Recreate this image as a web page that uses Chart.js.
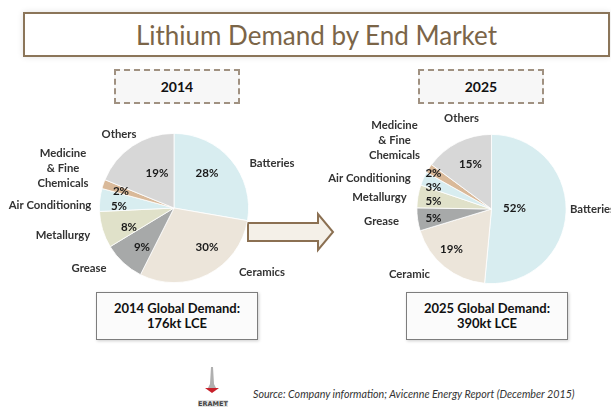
<!DOCTYPE html>
<html>
<head>
<meta charset="utf-8">
<script src="https://cdn.jsdelivr.net/npm/chart.js@4.4.1/dist/chart.umd.min.js"></script>
<style>
  html, body { margin:0; padding:0; background:#fff; }
  body { width:611px; height:412px; position:relative; overflow:hidden; font-family:Lato, "Open Sans", sans-serif; }
  canvas { position:absolute; left:0; top:0; }
  .title { position:absolute; left:23px; top:12px; width:583px; height:41px; border:2px solid #8b7559;
           box-shadow:0 0 6px rgba(0,0,0,0.12); color:#7b6548; font-size:26px; text-align:center; line-height:43px; background:#fff; }
  .year { position:absolute; top:69px; width:122px; height:31px; border:2px dashed #a09181; background:#f7f7f7;
          font-weight:bold; font-size:14px; color:#111; text-align:center; line-height:31px; }
  .total { position:absolute; top:292px; width:160px; height:46px; border:1.5px solid #7d7d7d; background:#fbfbfb;
           box-shadow:1px 1px 3px rgba(0,0,0,0.2); font-weight:bold; font-size:13px; color:#111; text-align:center; line-height:15px; }
  .total div { padding-top:8px; }
  .source { position:absolute; left:253px; top:387px; font-style:italic; font-size:10.7px; color:#333; }
  svg { position:absolute; }
</style>
</head>
<body>
<div class="title">Lithium Demand by End Market</div>
<div class="year" style="left:114px">2014</div>
<div class="year" style="left:418px">2025</div>
<div class="total" style="left:96px"><div>2014 Global Demand:<br>176kt LCE</div></div>
<div class="total" style="left:406px"><div>2025 Global Demand:<br>390kt LCE</div></div>

<svg style="left:0;top:0" width="611" height="412">
  <path d="M248,223 L318,223 L318,214 L333,232 L318,250 L318,241 L248,241 Z" fill="#f4f0e8" stroke="#8b7052" stroke-width="2"/>
  <!-- logo -->
  <path d="M211,367 L213,367 L214,384 L216,388 L208,388 L210,384 Z" fill="#b0b0b0"/>
  <path d="M205,388 L219,388 L212,393 Z" fill="#c8202a"/>
  <rect x="198" y="400" width="30" height="7" fill="#e4e4e4"/>
  <text x="213" y="406" font-size="6.5" font-family="DejaVu Sans" font-weight="bold" fill="#444" text-anchor="middle">ERAMET</text>
</svg>
<div class="source">Source: Company information; Avicenne Energy Report (December 2015)</div>

<canvas id="pie2014" width="611" height="412"></canvas>
<canvas id="pie2025" width="611" height="412"></canvas>

<script>
// data
var categories2014 = ["Batteries", "Ceramics", "Grease", "Metallurgy", "Air Conditioning", "Medicine\n& Fine\nChemicals", "Others"];
var values2014 = [28, 30, 9, 8, 5, 2, 19];
var categories2025 = ["Batteries", "Ceramic", "Grease", "Metallurgy", "Air Conditioning", "Medicine\n& Fine\nChemicals", "Others"];
var values2025 = [52, 19, 5, 5, 3, 2, 15];

var sliceColors = ["#d8edf0", "#ece5da", "#a7a9a9", "#e0e1c9", "#d8edf0", "#d9b999", "#d7d7d7"];

// label placement, relative to pie centre
var pctPos2014 = [[33,-35],[33,39],[-32,39],[-45,19],[-55,-2],[-53,-17],[-17,-35]];
var namePos2014 = [[98,-45],[88,64],[-85,60],[-111,27],[-124,-3],[-111,-40],[-55,-74]];
var pctPos2025 = [[23,-1],[-40,40],[-58,9],[-58,-8],[-58,-22],[-58,-36],[-21,-45]];
var namePos2025 = [[101,0],[-82,65],[-110,12],[-112,-12],[-122,-31],[-97,-69],[-30,-91]];

var labelPlugin = {
  id: "sliceLabels",
  afterDatasetsDraw: function(chart, args, opts){
    var ctx = chart.ctx;
    var arcs = chart.getDatasetMeta(0).data;
    var vals = chart.data.datasets[0].data;
    var cats = chart.data.labels;
    ctx.save();
    ctx.textAlign = "center";
    ctx.textBaseline = "middle";
    arcs.forEach(function(arc, i){
      var cx = arc.x, cy = arc.y;
      ctx.font = "bold 11.5px Lato";
      ctx.fillStyle = "#1a1a1a";
      ctx.fillText(vals[i] + "%", cx + opts.pct[i][0], cy + opts.pct[i][1]);
      ctx.font = "bold 11.3px Lato";
      ctx.fillStyle = "#333";
      var lines = cats[i].split("\n");
      lines.forEach(function(t, k){
        var dy = (k - (lines.length - 1) / 2) * 15;
        ctx.fillText(t, cx + opts.name[i][0], cy + opts.name[i][1] + dy);
      });
    });
    ctx.restore();
  }
};

function makePie(id, cats, vals, pad, pct, name){
  return new Chart(document.getElementById(id), {
    type: "pie",
    data: {
      labels: cats,
      datasets: [{ data: vals, backgroundColor: sliceColors, borderColor: "#ffffff", borderWidth: 0.8 }]
    },
    options: {
      responsive: false,
      devicePixelRatio: 1,
      animation: false,
      layout: { padding: pad },
      plugins: {
        legend: { display: false },
        tooltip: { enabled: false },
        sliceLabels: { pct: pct, name: name }
      }
    },
    plugins: [labelPlugin]
  });
}

makePie("pie2014", categories2014, values2014, {left:99, right:362, top:133, bottom:129}, pctPos2014, namePos2014);
makePie("pie2025", categories2025, values2025, {left:416, right:44, top:134, bottom:128}, pctPos2025, namePos2025);
</script>
</body>
</html>
